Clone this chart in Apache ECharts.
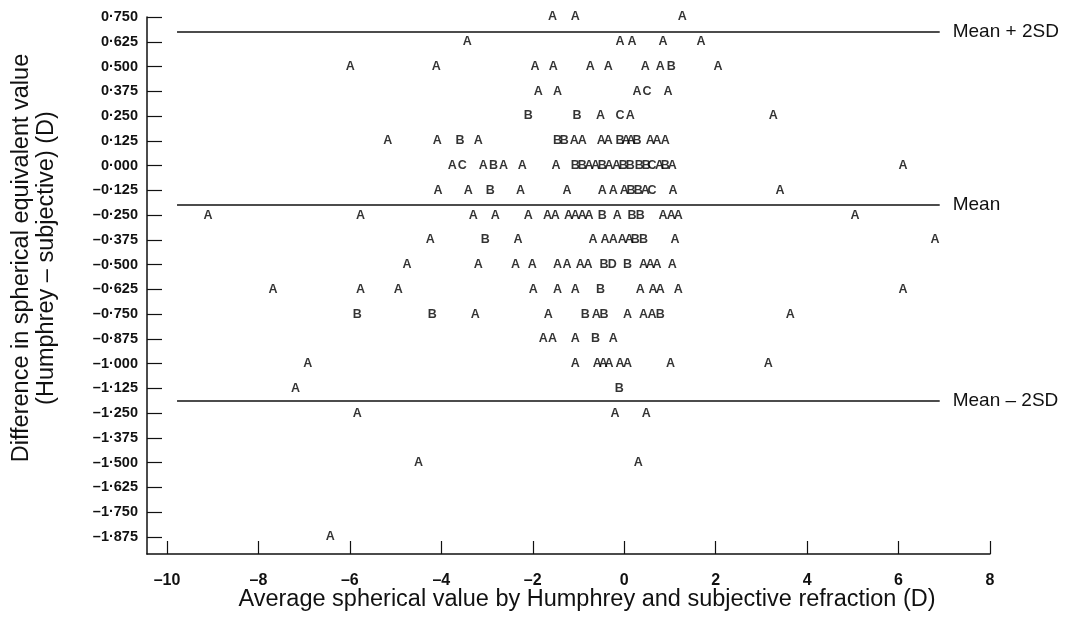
<!DOCTYPE html>
<html>
<head>
<meta charset="utf-8">
<title>Humphrey vs subjective refraction</title>
<script src="https://cdn.jsdelivr.net/npm/echarts@6/dist/echarts.min.js"></script>
<style>
  html, body { margin: 0; padding: 0; background: #fff; }
  #chart { width: 1071px; height: 632px; }
</style>
</head>
<body>
<div id="chart"></div>
<script>
// tick labels
var xTicks = [-10, -8, -6, -4, -2, 0, 2, 4, 6, 8];
var yTicks = [0.75, 0.625, 0.5, 0.375, 0.25, 0.125, 0, -0.125, -0.25, -0.375, -0.5,
  -0.625, -0.75, -0.875, -1, -1.125, -1.25, -1.375, -1.5, -1.625, -1.75, -1.875];

// reference lines: [label, value]
var refNames = ['Mean + 2SD', 'Mean', 'Mean \u2013 2SD'];
var refValues = [0.674, -0.199, -1.187];
var refFrom = -9.78, refTo = 6.9;

// points, grouped by the letter printed (A = 1 observation, B = 2, ...)
var pointsA = [
  [-1.57, 0.75], [-1.07, 0.75], [1.27, 0.75],
  [-3.43, 0.625], [-0.09, 0.625], [0.17, 0.625], [0.85, 0.625], [1.68, 0.625],
  [-5.99, 0.5], [-4.11, 0.5], [-1.95, 0.5], [-1.55, 0.5], [-0.74, 0.5], [-0.35, 0.5], [0.46, 0.5], [0.79, 0.5], [2.05, 0.5],
  [-1.88, 0.375], [-1.46, 0.375], [0.28, 0.375], [0.96, 0.375],
  [-0.52, 0.25], [0.13, 0.25], [3.26, 0.25],
  [-5.17, 0.125], [-4.09, 0.125], [-3.19, 0.125], [-1.09, 0.125], [-0.92, 0.125], [-0.5, 0.125], [-0.35, 0.125],
  [0.04, 0.125], [0.15, 0.125], [0.57, 0.125], [0.72, 0.125], [0.9, 0.125],
  [-3.76, 0], [-3.08, 0], [-2.64, 0], [-2.23, 0], [-1.49, 0], [-0.77, 0], [-0.63, 0], [-0.33, 0], [-0.17, 0],
  [0.77, 0], [1.05, 0], [6.1, 0],
  [-4.07, -0.125], [-3.41, -0.125], [-2.27, -0.125], [-1.25, -0.125], [-0.48, -0.125], [-0.24, -0.125], [0, -0.125],
  [0.46, -0.125], [1.07, -0.125], [3.41, -0.125],
  [-9.1, -0.25], [-5.77, -0.25], [-3.3, -0.25], [-2.82, -0.25], [-2.1, -0.25], [-1.68, -0.25], [-1.51, -0.25],
  [-1.22, -0.25], [-1.07, -0.25], [-0.92, -0.25], [-0.77, -0.25], [-0.15, -0.25], [0.85, -0.25], [1.03, -0.25],
  [1.18, -0.25], [5.05, -0.25],
  [-4.24, -0.375], [-2.32, -0.375], [-0.68, -0.375], [-0.42, -0.375], [-0.24, -0.375], [-0.04, -0.375], [0.11, -0.375],
  [1.11, -0.375], [6.8, -0.375],
  [-4.75, -0.5], [-3.19, -0.5], [-2.38, -0.5], [-2.01, -0.5], [-1.46, -0.5], [-1.25, -0.5], [-0.96, -0.5], [-0.79, -0.5],
  [0.42, -0.5], [0.57, -0.5], [0.72, -0.5], [1.05, -0.5],
  [-7.68, -0.625], [-5.77, -0.625], [-4.94, -0.625], [-1.99, -0.625], [-1.46, -0.625], [-1.07, -0.625],
  [0.35, -0.625], [0.63, -0.625], [0.79, -0.625], [1.18, -0.625], [6.1, -0.625],
  [-3.26, -0.75], [-1.66, -0.75], [-0.61, -0.75], [0.07, -0.75], [0.42, -0.75], [0.61, -0.75], [3.63, -0.75],
  [-1.77, -0.875], [-1.57, -0.875], [-1.07, -0.875], [-0.24, -0.875],
  [-6.92, -1], [-1.07, -1], [-0.59, -1], [-0.46, -1], [-0.33, -1], [-0.09, -1], [0.07, -1], [1.01, -1], [3.15, -1],
  [-7.19, -1.125],
  [-5.84, -1.25], [-0.2, -1.25], [0.48, -1.25],
  [-4.5, -1.5], [0.31, -1.5],
  [-6.43, -1.875]
];
var pointsB = [
  [1.03, 0.5],
  [-2.1, 0.25], [-1.03, 0.25],
  [-3.59, 0.125], [-1.46, 0.125], [-1.31, 0.125], [-0.09, 0.125], [0.28, 0.125],
  [-2.86, 0], [-1.07, 0], [-0.92, 0], [-0.48, 0], [-0.02, 0], [0.13, 0], [0.33, 0], [0.48, 0], [0.9, 0],
  [-2.93, -0.125], [0.15, -0.125], [0.31, -0.125],
  [-0.48, -0.25], [0.17, -0.25], [0.35, -0.25],
  [-3.04, -0.375], [0.24, -0.375], [0.42, -0.375],
  [-0.44, -0.5], [0.07, -0.5],
  [-0.52, -0.625],
  [-5.84, -0.75], [-4.2, -0.75], [-0.85, -0.75], [-0.44, -0.75], [0.79, -0.75],
  [-0.63, -0.875],
  [-0.11, -1.125]
];
var pointsC = [
  [0.5, 0.375],
  [-0.09, 0.25],
  [-3.54, 0], [0.61, 0],
  [0.61, -0.125]
];
var pointsD = [
  [-0.26, -0.5]
];

var FONT = "'Liberation Sans', Arial, Helvetica, sans-serif";
var INK = '#111';

function fmtY(v) {
  var s = Math.abs(v).toFixed(3).replace('.', '\u00b7');
  return v < -1e-9 ? '\u2013' + s : s;
}
function fmtX(v) {
  return v < 0 ? '\u2013' + Math.abs(v) : String(v);
}

function letterSeries(name, data) {
  return {
    name: name,
    type: 'scatter',
    data: data,
    symbolSize: 1,
    itemStyle: { color: 'rgba(0,0,0,0)' },
    silent: true,
    label: {
      show: true,
      position: 'inside',
      formatter: name,
      color: '#000',
      fontFamily: FONT,
      fontWeight: 'bold',
      fontSize: 12.5
    }
  };
}

var myChart = echarts.init(document.getElementById('chart'));
var option = {
  animation: false,
  backgroundColor: '#fff',
  grid: { left: 147, right: 81, top: 17, bottom: 78 },
  xAxis: {
    type: 'value',
    min: -10.437,
    max: 8,
    axisLine: { show: true, onZero: false, lineStyle: { color: INK, width: 1.5 } },
    axisTick: { show: true, inside: true, length: 13, customValues: xTicks, lineStyle: { color: INK, width: 1.2 } },
    axisLabel: {
      customValues: xTicks,
      formatter: fmtX,
      margin: 19,
      color: INK,
      fontFamily: FONT,
      fontWeight: 'bold',
      fontSize: 16
    },
    splitLine: { show: false }
  },
  yAxis: {
    type: 'value',
    min: -1.961,
    max: 0.75,
    axisLine: { show: true, onZero: false, lineStyle: { color: INK, width: 1.5 } },
    axisTick: { show: true, inside: true, length: 15, customValues: yTicks, lineStyle: { color: INK, width: 1.2 } },
    axisLabel: {
      customValues: yTicks,
      formatter: fmtY,
      margin: 9,
      color: INK,
      fontFamily: FONT,
      fontWeight: 'bold',
      fontSize: 14.5
    },
    splitLine: { show: false }
  },
  graphic: [
    {
      type: 'text',
      x: 34,
      y: 258,
      rotation: Math.PI / 2,
      style: {
        text: 'Difference in spherical equivalent value\n(Humphrey \u2013 subjective) (D)',
        align: 'center',
        verticalAlign: 'middle',
        lineHeight: 25,
        fill: INK,
        fontFamily: FONT,
        fontSize: 23.5
      }
    },
    {
      type: 'text',
      x: 587,
      y: 600,
      style: {
        text: 'Average spherical value by Humphrey and subjective refraction (D)',
        align: 'center',
        verticalAlign: 'middle',
        fill: INK,
        fontFamily: FONT,
        fontSize: 23.5
      }
    }
  ],
  series: [
    letterSeries('A', pointsA),
    letterSeries('B', pointsB),
    letterSeries('C', pointsC),
    letterSeries('D', pointsD),
    {
      type: 'scatter',
      data: [],
      markLine: {
        silent: true,
        symbol: 'none',
        lineStyle: { color: INK, width: 1.5, type: 'solid' },
        label: {
          show: true,
          position: 'end',
          distance: 13,
          formatter: '{b}',
          color: INK,
          fontFamily: FONT,
          fontSize: 19
        },
        data: refNames.map(function (n, i) {
          return [{ name: n, coord: [refFrom, refValues[i]] }, { coord: [refTo, refValues[i]] }];
        })
      }
    }
  ]
};
myChart.setOption(option);
</script>
</body>
</html>
